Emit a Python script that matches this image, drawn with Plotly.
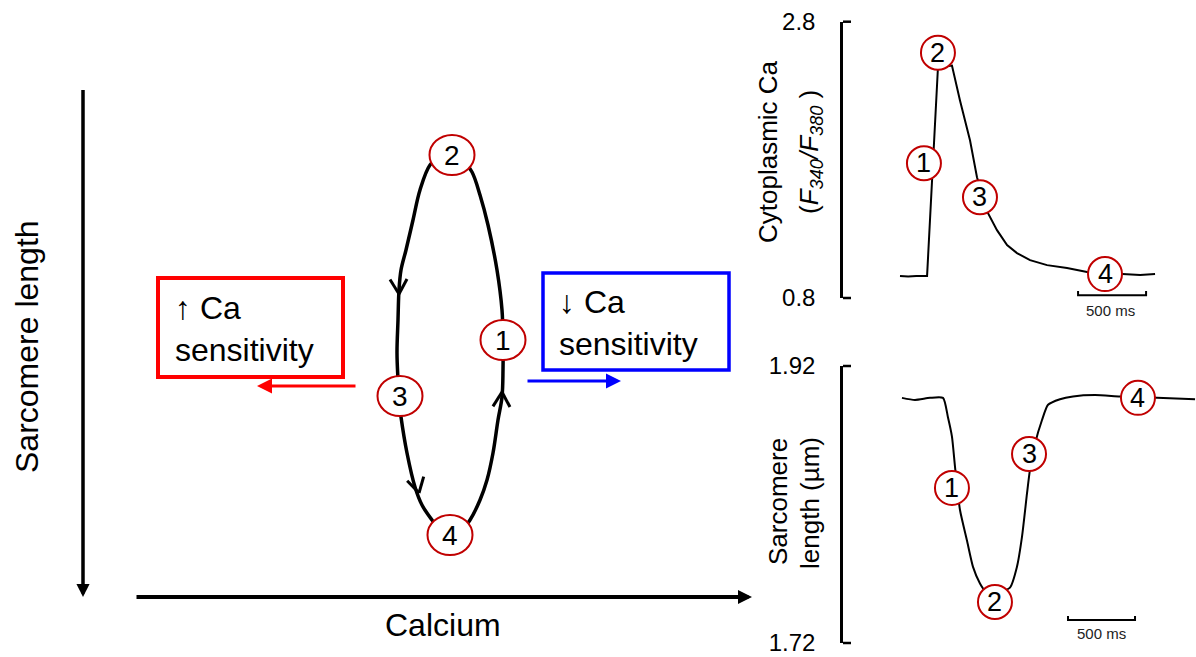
import math
import plotly.graph_objects as go

FONT = "Arial, Liberation Sans, sans-serif"
RED_RING = "#c00000"

# ---------------- Schematic (canvas frame, 1196 x 657) ----------------
loop_x = [452, 440, 430, 420, 413, 406, 401, 399, 398, 397, 398, 399, 401, 407, 415, 422, 432, 442, 450,
          460, 470, 480, 487, 493, 498, 502, 503, 503, 502, 497, 488, 480, 472, 463, 452]
loop_y = [152, 157, 165, 190, 220, 250, 270, 290, 320, 353, 380, 400, 417, 453, 487, 505, 520, 532, 537,
          532, 520, 500, 480, 453, 420, 397, 370, 340, 310, 270, 225, 195, 172, 160, 152]
loop_states = ["1", "2", "3", "4"]
loop_state_x = [503, 452, 400, 450]
loop_state_y = [340, 155, 396, 535]
# chevrons on the loop: tip and a point behind it along the path
chev_tip_x = [399, 419, 502]
chev_tip_y = [294, 493, 392]
chev_back_x = [398, 412, 501]
chev_back_y = [265, 465, 420]

# ---------------- Cytoplasmic Ca transient ----------------
ca_time = [0, 60, 120, 199, 279, 382, 441, 515, 566, 647, 713, 787, 860, 956, 1081, 1228, 1375, 1522, 1640, 1765, 1875]
ca_ratio = [0.959, 0.955, 0.960, 0.959, 2.468, 2.482, 2.23, 1.94, 1.674, 1.414, 1.291, 1.183, 1.125, 1.074, 1.038,
            1.017, 0.988, 0.980, 0.972, 0.966, 0.973]
ca_mark_time = [176, 279, 588, 1507]
ca_mark_val = [1.775, 2.576, 1.529, 0.973]
ca_ticks = [0.8, 2.8]

# ---------------- Sarcomere length ----------------
sl_time = [0, 97, 209, 306, 343, 373, 396, 433, 485, 530, 582, 619, 700, 806, 858, 896, 933, 955, 993, 1045, 1090,
           1179, 1276, 1440, 1627, 1903, 2187]
sl_len = [1.897, 1.8955, 1.897, 1.897, 1.883, 1.869, 1.847, 1.816, 1.794, 1.775, 1.763, 1.758, 1.756, 1.760, 1.775,
          1.797, 1.828, 1.845, 1.864, 1.881, 1.892, 1.896, 1.898, 1.899, 1.898, 1.897, 1.896]
sl_mark_time = [373, 694, 948, 1761]
sl_mark_val = [1.832, 1.7496, 1.8565, 1.897]
sl_ticks = [1.72, 1.92]

W, H = 1196, 657
AX_X = 843                      # pixel column of the right-hand value axes
CA_DOM = (21.7, 298)            # pixel rows (top, bottom) of the Ca panel
SL_DOM = (366, 643)             # pixel rows (top, bottom) of the SL panel

fig = go.Figure()

# loop
fig.add_trace(go.Scatter(x=loop_x, y=loop_y, mode="lines", line=dict(color="black", width=3.5, shape="spline"),
                         xaxis="x", yaxis="y", hoverinfo="skip"))

# open chevrons on the loop (arms derived from local path direction)
cx_all, cy_all = [], []
ARM, ANG = 17, math.radians(30)
for tx, ty, bx, by in zip(chev_tip_x, chev_tip_y, chev_back_x, chev_back_y):
    dx, dy = bx - tx, by - ty
    n = math.hypot(dx, dy)
    dx, dy = dx / n, dy / n
    for sgn in (1, -1):
        c, s = math.cos(sgn * ANG), math.sin(sgn * ANG)
        ax_, ay_ = tx + ARM * (dx * c - dy * s), ty + ARM * (dx * s + dy * c)
        cx_all += [ax_, tx, None]
        cy_all += [ay_, ty, None]
fig.add_trace(go.Scatter(x=cx_all, y=cy_all, mode="lines", line=dict(color="black", width=3),
                         xaxis="x", yaxis="y", hoverinfo="skip"))

# bracket end ticks of the value axes (positions from the tick values)
bx, by = [], []
for ticks, (top, bot) in ((ca_ticks, CA_DOM), (sl_ticks, SL_DOM)):
    lo, hi = ticks
    for v in ticks:
        py = top + (hi - v) / (hi - lo) * (bot - top)
        bx += [AX_X, AX_X + 8, None]
        by += [py, py, None]
fig.add_trace(go.Scatter(x=bx, y=by, mode="lines", line=dict(color="black", width=2.5),
                         xaxis="x", yaxis="y", hoverinfo="skip"))

# traces
fig.add_trace(go.Scatter(x=ca_time, y=ca_ratio, mode="lines", line=dict(color="black", width=2),
                         xaxis="x2", yaxis="y2", hoverinfo="skip"))
fig.add_trace(go.Scatter(x=sl_time, y=sl_len, mode="lines", line=dict(color="black", width=2, shape="spline", smoothing=0.6),
                         xaxis="x3", yaxis="y3", hoverinfo="skip"))
# scale bars (500 ms)
fig.add_trace(go.Scatter(x=[1309, 1309, 1809, 1809], y=[0.85, 0.82, 0.82, 0.85], mode="lines",
                         line=dict(color="black", width=2), xaxis="x2", yaxis="y2", hoverinfo="skip"))
fig.add_trace(go.Scatter(x=[1239, 1239, 1739, 1739], y=[1.7395, 1.7366, 1.7366, 1.7395], mode="lines",
                         line=dict(color="black", width=2), xaxis="x3", yaxis="y3", hoverinfo="skip"))

shapes = []
annotations = []


def ring(xref, yref, cx, cy, rx, ry):
    shapes.append(dict(type="circle", xref=xref, yref=yref, xsizemode="pixel", ysizemode="pixel",
                       xanchor=cx, yanchor=cy, x0=-rx, x1=rx, y0=-ry, y1=ry,
                       line=dict(color=RED_RING, width=2), fillcolor="white", layer="above"))


def num(xref, yref, cx, cy, t, size):
    annotations.append(dict(xref=xref, yref=yref, x=cx, y=cy, text=t, showarrow=False,
                            font=dict(family=FONT, size=size, color="black"),
                            xanchor="center", yanchor="middle", yshift=0))


for s, cx, cy in zip(loop_states, loop_state_x, loop_state_y):
    ring("x", "y", cx, cy, 22.5, 20)
    num("x", "y", cx, cy, s, 28)
for s, cx, cy in zip(loop_states, ca_mark_time, ca_mark_val):
    ring("x2", "y2", cx, cy, 17, 17)
    num("x2", "y2", cx, cy, s, 27)
for s, cx, cy in zip(loop_states, sl_mark_time, sl_mark_val):
    ring("x3", "y3", cx, cy, 17, 17)
    num("x3", "y3", cx, cy, s, 27)

# sensitivity boxes
box_red = [158, 278, 343, 377]
box_blue = [543, 273, 729, 370]
shapes.append(dict(type="rect", xref="x", yref="y", x0=box_red[0], y0=box_red[1], x1=box_red[2], y1=box_red[3],
                   line=dict(color="#ff0000", width=4), fillcolor="rgba(0,0,0,0)"))
shapes.append(dict(type="rect", xref="x", yref="y", x0=box_blue[0], y0=box_blue[1], x1=box_blue[2], y1=box_blue[3],
                   line=dict(color="#0000ff", width=3.5), fillcolor="rgba(0,0,0,0)"))
annotations.append(dict(xref="x", yref="y", x=173, y=329, text="↑ Ca<br>sensitivity", showarrow=False,
                        align="left", xanchor="left", yanchor="middle", font=dict(family=FONT, size=32, color="black")))
annotations.append(dict(xref="x", yref="y", x=557, y=323, text="↓ Ca<br>sensitivity", showarrow=False,
                        align="left", xanchor="left", yanchor="middle", font=dict(family=FONT, size=32, color="black")))


def arrow(x, y, ax, ay, color, width, head, size):
    annotations.append(dict(xref="x", yref="y", axref="x", ayref="y", x=x, y=y, ax=ax, ay=ay, text=" ",
                            showarrow=True, arrowhead=head, arrowsize=size, arrowwidth=width, arrowcolor=color,
                            standoff=0, startstandoff=0, font=dict(size=1)))


# main axes arrows
arrow(83, 597, 83, 88, "black", 3.5, 2, 0.75)
arrow(752, 597, 135, 597, "black", 4, 2, 0.7)
# sensitivity arrows
arrow(257, 386, 357, 386, "#ff0000", 3, 2, 1.0)
arrow(621, 381, 526, 381, "#0000ff", 3, 2, 1.0)

# main labels
annotations.append(dict(xref="x", yref="y", x=27, y=347, text="Sarcomere length", textangle=-90, showarrow=False,
                        font=dict(family=FONT, size=32, color="black")))
annotations.append(dict(xref="x", yref="y", x=443, y=625, text="Calcium", showarrow=False,
                        font=dict(family=FONT, size=32, color="black")))
# right panel labels
annotations.append(dict(xref="x", yref="y", x=768, y=152, text="Cytoplasmic Ca", textangle=-90, showarrow=False,
                        font=dict(family=FONT, size=26, color="black")))
annotations.append(dict(xref="x", yref="y", x=810, y=152,
                        text="(<i>F<sub>340</sub>/F<sub>380</sub></i> )", textangle=-90, showarrow=False,
                        font=dict(family=FONT, size=26, color="black")))
annotations.append(dict(xref="x", yref="y", x=778, y=502, text="Sarcomere", textangle=-90, showarrow=False,
                        font=dict(family=FONT, size=26, color="black")))
annotations.append(dict(xref="x", yref="y", x=810, y=503, text="length (µm)", textangle=-90, showarrow=False,
                        font=dict(family=FONT, size=26, color="black")))
annotations.append(dict(xref="x", yref="y", x=1110, y=310, text="500 ms", showarrow=False,
                        font=dict(family=FONT, size=15, color="#222222")))
annotations.append(dict(xref="x", yref="y", x=1101, y=633, text="500 ms", showarrow=False,
                        font=dict(family=FONT, size=15, color="#222222")))

axis_common = dict(showgrid=False, zeroline=False, automargin=False)
fig.update_layout(
    width=W, height=H, margin=dict(l=0, r=0, t=0, b=0, pad=0, autoexpand=False),
    paper_bgcolor="white", plot_bgcolor="rgba(0,0,0,0)", showlegend=False,
    font=dict(family=FONT),
    xaxis=dict(range=[0, W], domain=[0, 1], visible=False, **axis_common),
    yaxis=dict(range=[H, 0], domain=[0, 1], visible=False, **axis_common),
    xaxis2=dict(range=[-419, 2176], domain=[AX_X / W, 1], visible=False, anchor="y2", **axis_common),
    yaxis2=dict(range=ca_ticks, domain=[1 - CA_DOM[1] / H, 1 - CA_DOM[0] / H], anchor="x2", showline=True,
                linecolor="black", linewidth=2.5, ticks="", tickvals=ca_ticks, ticktext=["0.8", "2.8"],
                ticklabelstandoff=20, tickfont=dict(family=FONT, size=24, color="black"), **axis_common),
    xaxis3=dict(range=[-440, 2194], domain=[AX_X / W, 1], visible=False, anchor="y3", **axis_common),
    yaxis3=dict(range=sl_ticks, domain=[1 - SL_DOM[1] / H, 1 - SL_DOM[0] / H], anchor="x3", showline=True,
                linecolor="black", linewidth=2.5, ticks="", tickvals=sl_ticks, ticktext=["1.72", "1.92"],
                ticklabelstandoff=20, tickfont=dict(family=FONT, size=24, color="black"), **axis_common),
    shapes=shapes, annotations=annotations,
)

fig.write_html("out.html")
